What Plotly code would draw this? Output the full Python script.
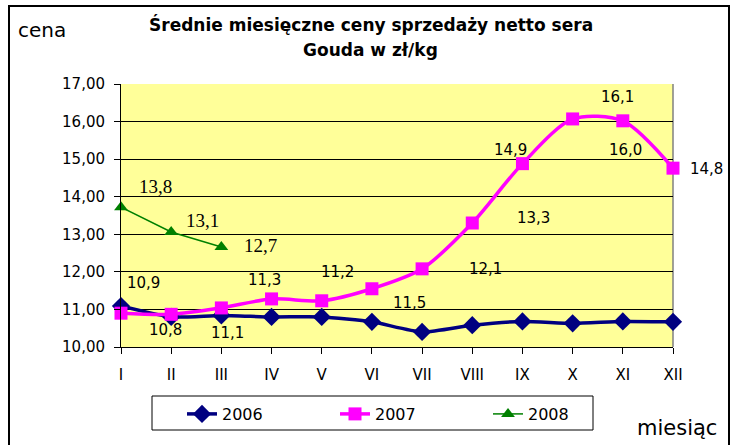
import plotly.graph_objects as go

months = ["I", "II", "III", "IV", "V", "VI", "VII", "VIII", "IX", "X", "XI", "XII"]
vals_2006 = [11.09, 10.80, 10.84, 10.80, 10.80, 10.67, 10.40, 10.58, 10.68, 10.63, 10.68, 10.67]
vals_2007 = [10.90, 10.87, 11.04, 11.28, 11.23, 11.55, 12.08, 13.30, 14.88, 16.07, 16.02, 14.76]
vals_2008 = [13.72, 13.06, 12.66]
labels_2007 = ["10,9", "10,8", "11,1", "11,3", "11,2", "11,5", "12,1", "13,3", "14,9", "16,1", "16,0", "14,8"]
labels_2008 = ["13,8", "13,1", "12,7"]
y_ticks = [10, 11, 12, 13, 14, 15, 16, 17]

# label offsets (px) relative to their points
off_2007 = [(22, 30), (-6, -16), (6, -25), (-7, 19), (16, 29), (38, -14), (63, 0),
            (61, 5), (-12, 14), (45, 22), (3, -29), (33, -1)]
off_2008 = [(34, 21), (31, 12), (39, 2)]

SANS = "DejaVu Sans"
SERIF = "Liberation Serif, Times New Roman, DejaVu Serif, serif"

# plot area in pixels: x 121..673, y 84..347
PL, PR, PT, PB = 121, 673, 84, 347
PW, PH = PR - PL, PB - PT


def px(x):
    return (x - PL) / PW


def py(y):
    return (PB - y) / PH


fig = go.Figure()
fig.add_trace(go.Scatter(
    x=months, y=vals_2006, name="2006", mode="lines+markers",
    line=dict(color="#000080", width=3.5, shape="spline", smoothing=0.6),
    marker=dict(symbol="diamond", size=14, color="#000080"), cliponaxis=False))
fig.add_trace(go.Scatter(
    x=months, y=vals_2007, name="2007", mode="lines+markers",
    line=dict(color="#FF00FF", width=3.5, shape="spline", smoothing=0.8),
    marker=dict(symbol="square", size=13, color="#FF00FF"), cliponaxis=False))
fig.add_trace(go.Scatter(
    x=months[:len(vals_2008)], y=vals_2008, name="2008", mode="lines+markers",
    line=dict(color="#008000", width=1.5),
    marker=dict(symbol="triangle-up", size=12, color="#008000"), cliponaxis=False))

annotations = []
for m, v, t, (dx, dy) in zip(months, vals_2007, labels_2007, off_2007):
    annotations.append(dict(x=m, y=v, xref="x", yref="y", text=t, showarrow=False,
                            xshift=dx, yshift=dy, font=dict(family=SANS, size=15, color="black")))
for m, v, t, (dx, dy) in zip(months, vals_2008, labels_2008, off_2008):
    annotations.append(dict(x=m, y=v, xref="x", yref="y", text=t, showarrow=False,
                            xshift=dx, yshift=dy, font=dict(family=SERIF, size=19, color="black")))

annotations += [
    dict(x=px(371), y=py(24), xref="paper", yref="paper",
         text="<b>Średnie miesięczne ceny sprzedaży netto sera</b>",
         showarrow=False, font=dict(family=SANS, size=17, color="black"),
         xanchor="center", yanchor="middle"),
    dict(x=px(370), y=py(50), xref="paper", yref="paper", text="<b>Gouda w zł/kg</b>",
         showarrow=False, font=dict(family=SANS, size=17, color="black"),
         xanchor="center", yanchor="middle"),
    dict(x=px(42), y=py(30), xref="paper", yref="paper",
         text="cena", showarrow=False, font=dict(family=SANS, size=20, color="black"),
         xanchor="center", yanchor="middle"),
    dict(x=px(677), y=py(428), xref="paper", yref="paper",
         text="miesiąc", showarrow=False, font=dict(family=SANS, size=21, color="black"),
         xanchor="center", yanchor="middle"),
]

fig.update_layout(
    width=742, height=445,
    margin=dict(l=PL, r=742 - PR, t=PT, b=445 - PB, autoexpand=False),
    paper_bgcolor="white", plot_bgcolor="#FFFF99",
    separators=", ",
    showlegend=True,
    legend=dict(orientation="h", x=px(182), y=py(397), xanchor="left", yanchor="top",
                borderwidth=0, bgcolor="rgba(0,0,0,0)",
                font=dict(family=SANS, size=16, color="black"),
                entrywidth=108, entrywidthmode="pixels", traceorder="normal"),
    annotations=annotations,
    shapes=[
        dict(type="rect", xref="paper", yref="paper", x0=px(9), x1=px(729), y0=py(460), y1=py(6),
             line=dict(color="black", width=2), layer="below"),
        dict(type="line", xref="paper", yref="paper", x0=1, x1=1, y0=0, y1=1,
             line=dict(color="#808080", width=1.5), layer="below"),
        dict(type="rect", xref="paper", yref="paper", x0=px(152), x1=px(593), y0=py(430), y1=py(396),
             line=dict(color="black", width=1), fillcolor="white", layer="below"),
    ],
    xaxis=dict(type="category", range=[0, 11], showgrid=False, showline=True, linecolor="black",
               linewidth=1, ticks="outside", ticklen=6, tickcolor="black",
               tickfont=dict(family=SANS, size=15, color="black"), ticklabelstandoff=8,
               zeroline=False, fixedrange=True),
    yaxis=dict(range=[10, 17], tickvals=y_ticks, tickformat=".2f", showgrid=True,
               gridcolor="black", gridwidth=1, showline=True, linecolor="black", linewidth=1,
               ticks="outside", ticklen=6, tickcolor="black",
               tickfont=dict(family=SANS, size=15, color="black"), ticklabelstandoff=6,
               zeroline=False, fixedrange=True),
)

fig.write_html("out.html", config={"displayModeBar": False},
               post_script="document.body.style.margin='0';document.body.style.overflow='hidden';")
